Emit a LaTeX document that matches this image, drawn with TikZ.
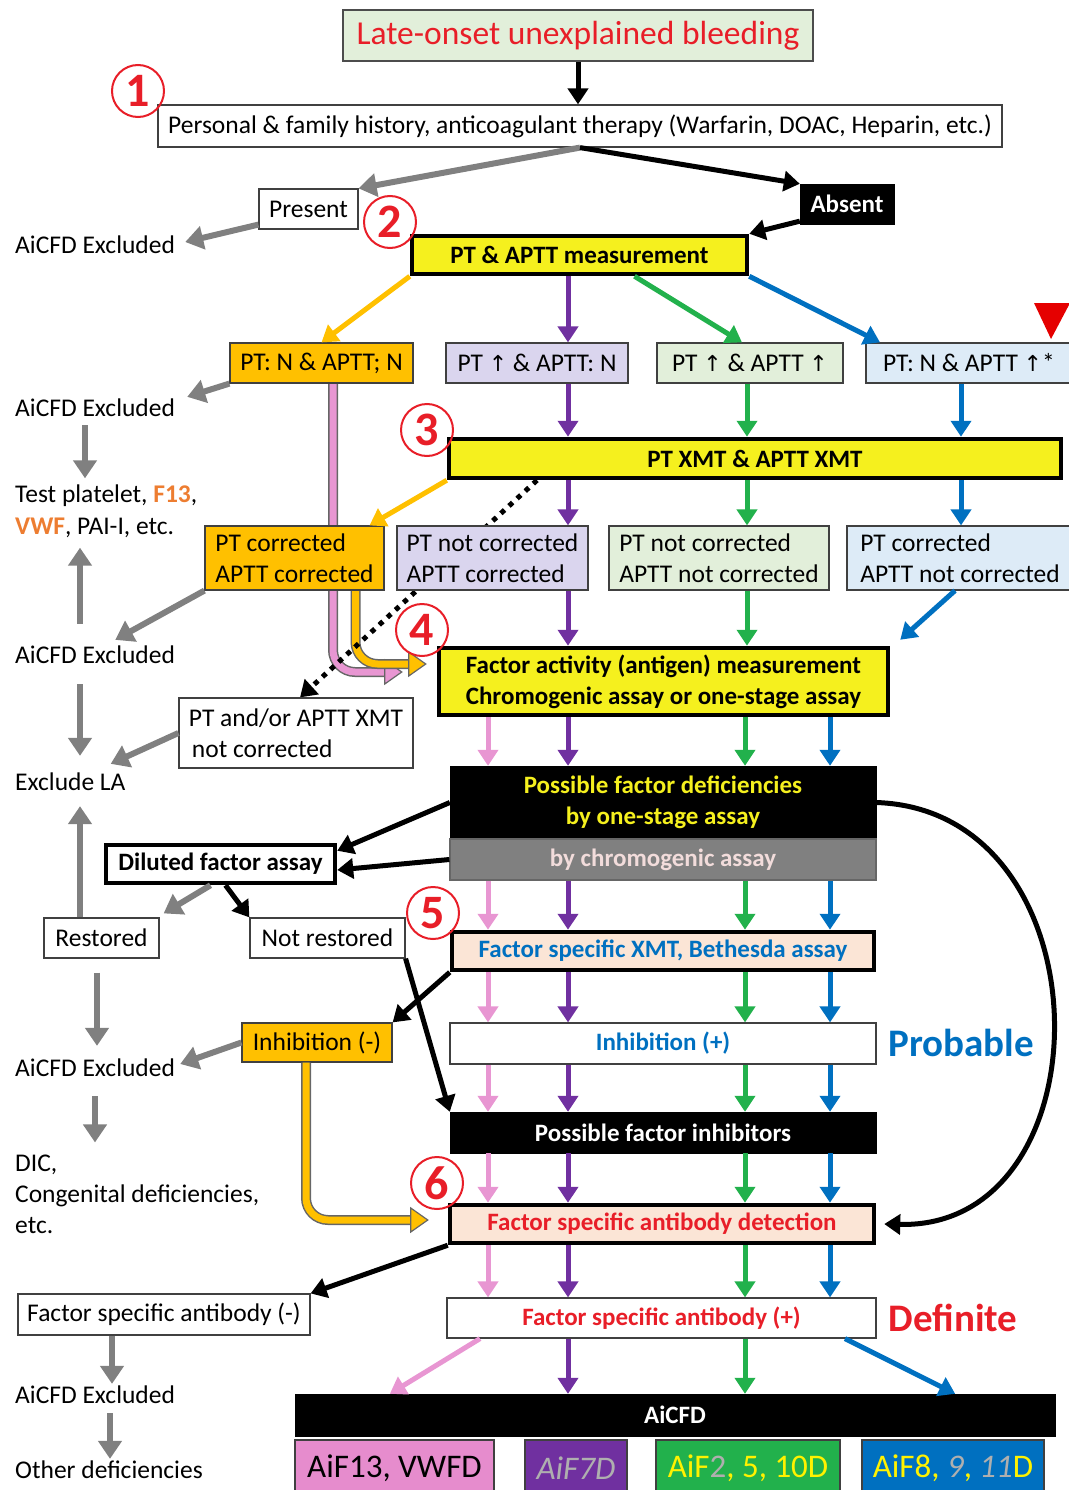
\documentclass[tikz,border=0pt]{standalone}
\usepackage{fontspec}
\setmainfont{Carlito}
\newfontfamily\symf{DejaVu Sans}
\usetikzlibrary{arrows.meta,calc}
\pgfdeclarelayer{bg}
\pgfsetlayers{bg,main}
\definecolor{cpink}{RGB}{232,150,210}
\definecolor{cpurple}{RGB}{112,48,160}
\definecolor{cgreen}{RGB}{34,177,76}
\definecolor{cblue}{RGB}{0,112,192}
\definecolor{corange}{RGB}{255,192,0}
\definecolor{cyellow}{RGB}{245,240,30}
\definecolor{lgreen}{RGB}{226,239,218}
\definecolor{lpurple}{RGB}{218,213,238}
\definecolor{lblue}{RGB}{221,235,247}
\definecolor{peach}{RGB}{251,229,214}
\definecolor{cgray}{RGB}{128,128,128}
\definecolor{cred}{RGB}{232,30,40}
\definecolor{forange}{RGB}{237,125,49}
\definecolor{fgray}{RGB}{175,175,175}
\definecolor{chromtxt}{RGB}{242,220,219}
\definecolor{bpink}{RGB}{230,140,205}
\newcommand\fsz[2]{\fontsize{#1pt}{#2pt}\selectfont}
\newcommand\dblarrow[3]{%
  \draw[line width=10pt, black!60, rounded corners=22pt] (#2) |- ([xshift=-14pt]#3);
  \draw[line width=7pt, #1, rounded corners=22pt] (#2) |- ([xshift=-14pt]#3);
  \filldraw[fill=#1, draw=black!60, line width=1.2pt] ([xshift=-17pt,yshift=12pt]#3) -- (#3) -- ([xshift=-17pt,yshift=-12pt]#3) -- cycle;}
\tikzset{
  box/.style={draw=black!75, line width=1.2pt, inner sep=0pt, font=\fsz{25.5}{31}},
  tbox/.style={draw=black, line width=4.5pt, inner sep=0pt, font=\bfseries\fsz{25}{31}},
  blk/.style={fill=black, draw=black, inner sep=0pt, text=white, font=\bfseries\fsz{25}{31}},
  lbl/.style={anchor=west, inner sep=0pt, font=\fsz{25.5}{31}},
  bfs/.style={font=\bfseries\fsz{25}{31}},
  num/.style={circle, draw=cred, line width=2pt, minimum size=52pt, inner sep=0pt, text=cred, font=\bfseries\fsz{48}{48}},
  arr/.style={line width=5pt, -{Triangle[length=16pt,width=20pt]}},
  arrgray/.style={arr, cgray, line width=6pt, -{Triangle[length=18pt,width=23pt]}},
  arrblack/.style={arr, black},
  arrpink/.style={arr, cpink},
  arrpurple/.style={arr, cpurple},
  arrgreen/.style={arr, cgreen},
  arrblue/.style={arr, cblue},
  arrorange/.style={arr, corange},
}
\begin{document}
\begin{tikzpicture}[x=1pt,y=-1pt]
\useasboundingbox (0,0) rectangle (1068,1490);
% ---------- nodes ----------
\node[box, fill=lgreen, draw=black!70, minimum width=470pt, minimum height=51pt, text=cred, font=\fsz{33.5}{38}] (top) at (578,35.5) {Late-onset unexplained bleeding};
\node[box, minimum width=844pt, minimum height=42pt] (hist) at (580,126) {Personal \& family history, anticoagulant therapy (Warfarin, DOAC, Heparin, etc.)};
\node[box, minimum width=99pt, minimum height=40pt] (present) at (308.5,209) {Present};
\node[lbl] (excl1) at (15,245) {AiCFD Excluded};
\node[blk, minimum width=94pt, minimum height=40pt] (absent) at (847,204) {Absent};
\node[tbox, fill=cyellow, minimum width=335pt, minimum height=38pt] (ptaptt) at (579.5,255) {PT \& APTT measurement};

\node[box, fill=corange, minimum width=183pt, minimum height=40pt] (ptnn) at (321.5,363) {PT: N \& APTT; N};
\node[box, fill=lpurple, minimum width=182pt, minimum height=40pt] (ptun) at (537,363) {PT {\symf\fsz{22}{25}↑} \& APTT: N};
\node[box, fill=lgreen, minimum width=186pt, minimum height=40pt] (ptuu) at (750,363) {PT {\symf\fsz{22}{25}↑} \& APTT {\symf\fsz{22}{25}↑}};
\node[box, fill=lblue, minimum width=206pt, minimum height=40pt] (ptnu) at (969,363) {PT: N \& APTT {\symf\fsz{22}{25}↑}*};
\fill[red!90!black] (1034,303) -- (1070,303) -- (1051,339) -- cycle;

\node[lbl] (excl2) at (15,408) {AiCFD Excluded};
\node[lbl, align=left, font=\fsz{25.5}{32}] (test) at (15,511) {Test platelet, {\color{forange}\bfseries F13},\\{\color{forange}\bfseries VWF}, PAI-I, etc.};

\node[tbox, fill=cyellow, minimum width=612pt, minimum height=39pt] (xmt) at (755,458.5) {PT XMT \& APTT XMT};

\node[box, fill=corange, minimum width=179pt, minimum height=64pt, align=left] (c1) at (294.5,558) {PT corrected\\APTT corrected};
\node[box, fill=lpurple, minimum width=191pt, minimum height=64pt, align=left] (c2) at (492.5,558) {PT not corrected\\APTT corrected};
\node[box, fill=lgreen, minimum width=220pt, minimum height=64pt, align=left] (c3) at (719,558) {PT not corrected\\APTT not corrected};
\node[box, fill=lblue, minimum width=226pt, minimum height=64pt, align=left] (c4) at (960,558) {PT corrected\\APTT not corrected};

\node[lbl] (excl3) at (15,655) {AiCFD Excluded};
\node[tbox, fill=cyellow, minimum width=449pt, minimum height=67pt, align=center] (fam) at (663.5,681.5) {Factor activity (antigen) measurement\\Chromogenic assay or one-stage assay};
\node[box, minimum width=234pt, minimum height=70pt, align=left] (notcorr) at (296,733) {PT and/or APTT XMT\\\hspace{3pt}not corrected};
\node[lbl] (exla) at (15,782) {Exclude LA};

\node[blk, minimum width=426pt, minimum height=73pt, align=center, text=cyellow] (pfd) at (663,802.5) {Possible factor deficiencies\\by one-stage assay};
\node[box, bfs, fill=cgray, draw=black!60, minimum width=426pt, minimum height=41pt, text=chromtxt] (chrom) at (663,859.5) {by chromogenic assay};
\node[tbox, fill=white, minimum width=229pt, minimum height=38pt] (dil) at (220.5,864) {Diluted factor assay};
\node[box, minimum width=115pt, minimum height=40pt] (rest) at (101.5,938) {Restored};
\node[box, minimum width=155pt, minimum height=40pt] (nrest) at (327.5,938) {Not restored};
\node[tbox, fill=peach, minimum width=422pt, minimum height=38pt, text=cblue] (beth) at (663,951) {Factor specific XMT, Bethesda assay};

\node[box, fill=corange, minimum width=150pt, minimum height=39pt] (inhneg) at (317,1042.5) {Inhibition (-)};
\node[lbl] (excl4) at (15,1068) {AiCFD Excluded};
\node[lbl, align=left, font=\fsz{25.5}{31}] (dic) at (15,1194) {DIC,\\Congenital deficiencies,\\etc.};
\node[box, bfs, minimum width=426pt, minimum height=41pt, text=cblue] (inhpos) at (663,1043.5) {Inhibition (+)};
\node[text=cblue, font=\bfseries\fsz{39}{42}, inner sep=0pt] (prob) at (961,1043) {Probable};
\node[blk, minimum width=426pt, minimum height=41pt] (pfi) at (663,1132.5) {Possible factor inhibitors};
\node[tbox, fill=peach, minimum width=424pt, minimum height=38pt, text=cred] (fsad) at (662,1224) {Factor specific antibody detection};
\node[box, bfs, minimum width=429pt, minimum height=40pt, text=cred] (fsapos) at (661.5,1318) {Factor specific antibody (+)};
\node[text=cred, font=\bfseries\fsz{39}{42}, inner sep=0pt] (defin) at (953,1318) {Definite};
\node[box, minimum width=292pt, minimum height=41pt] (fsaneg) at (164,1314.5) {Factor specific antibody (-)};
\node[lbl] (excl5) at (15,1395) {AiCFD Excluded};
\node[lbl] (other) at (15,1470) {Other deficiencies};

\node[blk, minimum width=760pt, minimum height=42pt] (aicfd) at (675,1415) {AiCFD};
\node[box, fill=bpink, minimum width=199pt, minimum height=56pt, font=\fsz{33}{36}] (b1) at (394.5,1468) {AiF13, VWFD};
\node[box, fill=cpurple, minimum width=102pt, minimum height=56pt, font=\fsz{33}{36}] (b2) at (576,1468) {\itshape\color{fgray}AiF7D};
\node[box, fill=cgreen, minimum width=184pt, minimum height=56pt, font=\fsz{33}{36}] (b3) at (748,1468) {\color{yellow}AiF{\color{fgray}2}, 5, 10D};
\node[box, fill=cblue, minimum width=182pt, minimum height=56pt, font=\fsz{33}{36}] (b4) at (953,1468) {\color{yellow}AiF8, {\itshape\color{fgray}9}, {\itshape\color{fgray}11}D};

% ---------- column coordinates ----------
\coordinate (X1) at (488,0);
\coordinate (X2) at (568,0);
\coordinate (X3) at (745,0);
\coordinate (X4) at (830,0);
\coordinate (Y3) at (747,0);
\coordinate (Y4) at (961,0);
\coordinate (G1) at (85,0);
\coordinate (G2) at (80,0);
\coordinate (G3) at (97,0);
\coordinate (G4) at (95,0);
\coordinate (G5) at (112,0);
\coordinate (G6) at (110,0);

% ---------- background connectors ----------
\begin{pgfonlayer}{bg}
\coordinate (pkA) at ([xshift=11.5pt]ptnn.south);
\coordinate (pkE) at ([xshift=-35pt,yshift=9.5pt]fam.west);
\dblarrow{cpink}{pkA}{pkE}
\coordinate (orA) at ([xshift=61pt]c1.south);
\coordinate (orE) at ([xshift=-11pt,yshift=17.5pt]fam.west);
\dblarrow{corange}{orA}{orE}
\draw[line width=5pt, dash pattern=on 5pt off 6pt, -{Triangle[length=16pt,width=20pt]}] ([xshift=-218pt]xmt.south) -- ([xshift=4pt]notcorr.north);
\end{pgfonlayer}
\coordinate (inA) at ([xshift=-11pt]inhneg.south);
\coordinate (inE) at ([xshift=-20pt,yshift=4pt]fsad.west);
\dblarrow{corange}{inA}{inE}

% ---------- connectors ----------
\draw[arrblack] (top.south) -- (top.south |- hist.north);
\draw[arrgray] (hist.south) -- (present.north east);
\draw[arrblack] (hist.south) -- (absent.north west);
\draw[arrgray] ([yshift=5pt]present.south west) -- ([xshift=10pt,yshift=3pt]excl1.east);
\draw[arrblack] (absent.200) -- (ptaptt.north east);

\draw[arrorange] (ptaptt.south west) -- (ptnn.north);
\draw[arrpurple] (ptaptt.south -| X2) -- (ptun.north -| X2);
\draw[arrgreen] ([xshift=55pt]ptaptt.south) -- ([xshift=-8pt]ptuu.north);
\draw[arrblue] (ptaptt.south east) -- ([xshift=-89pt]ptnu.north);

\draw[arrgray] (ptnn.south west) -- ([xshift=12pt,yshift=2pt]excl2.north east);
\draw[arrgray, shorten <=8pt, shorten >=6pt] (excl2.south -| G1) -- (test.north -| G1);
\draw[arrgray, shorten <=22pt, shorten >=10pt] (excl3.north -| G2) -- (test.south -| G2);

\draw[arrpurple] (ptun.south -| X2) -- (xmt.north -| X2);
\draw[arrgreen] (ptuu.south -| Y3) -- (xmt.north -| Y3);
\draw[arrblue] (ptnu.south -| Y4) -- (xmt.north -| Y4);

\draw[arrorange] (xmt.south west) -- ([xshift=75pt]c1.north);
\draw[arrpurple] (xmt.south -| X2) -- (c2.north -| X2);
\draw[arrgreen] (xmt.south -| Y3) -- (c3.north -| Y3);
\draw[arrblue] (xmt.south -| Y4) -- (c4.north -| Y4);

\draw[arrgray] (c1.south west) -- ([xshift=-60pt,yshift=6pt]excl3.north east);
\draw[arrgray, shorten <=20pt, shorten >=17pt] (excl3.south -| G2) -- (exla.north -| G2);

\draw[arrpurple] (c2.south -| X2) -- (fam.north -| X2);
\draw[arrgreen] (c3.south -| Y3) -- (fam.north -| Y3);
\draw[arrblue] ([xshift=-5pt]c4.south) -- ([xshift=10pt,yshift=6pt]fam.north east);

\draw[arrgray] (notcorr.west) -- ([xshift=-15pt,yshift=9pt]exla.north east);

\foreach \a/\b in {fam/pfd, chrom/beth, beth/inhpos, inhpos/pfi, pfi/fsad, fsad/fsapos}{
  \draw[arrpink] (\a.south -| X1) -- (\b.north -| X1);
  \draw[arrpurple] (\a.south -| X2) -- (\b.north -| X2);
  \draw[arrgreen] (\a.south -| X3) -- (\b.north -| X3);
  \draw[arrblue] (\a.south -| X4) -- (\b.north -| X4);
}

\draw[arrblack] (pfd.west) -- ([yshift=-8pt]dil.north east);
\draw[arrblack] (chrom.west) -- ([yshift=-6pt]dil.east);
\draw[arrblack] (pfd.east) .. controls (1110,810) and (1110,1230) .. ([xshift=8pt]fsad.east);

\draw[arrgray] ([xshift=-10pt]dil.south) -- ([xshift=4pt,yshift=4pt]rest.north east);
\draw[arrblack] ([xshift=5pt]dil.south) -- (nrest.north west);
\draw[arrgray, shorten >=15pt] (rest.north -| G2) -- (exla.south -| G2);
\draw[arrgray, shorten <=14pt, shorten >=13pt] (rest.south -| G3) -- (excl4.north -| G3);
\draw[arrgray, shorten <=19pt, shorten >=12pt] (excl4.south -| G4) -- (dic.north -| G4);

\draw[arrblack] (beth.south west) -- (inhneg.north east);
\draw[arrblack] (nrest.south east) -- (pfi.north west);
\draw[arrgray] (inhneg.west) -- ([xshift=5pt,yshift=4pt]excl4.east);

\draw[arrblack] (fsad.south west) -- (fsaneg.north east);
\draw[arrgray, shorten >=2pt] (fsaneg.south -| G5) -- (excl5.north -| G5);
\draw[arrgray, shorten <=9pt, shorten >=2pt] (excl5.south -| G6) -- (other.north -| G6);

\draw[arrpink] ([xshift=-181.5pt]fsapos.south) -- ([xshift=95pt]aicfd.north west);
\draw[arrpurple] (fsapos.south -| X2) -- (aicfd.north -| X2);
\draw[arrgreen] (fsapos.south -| X3) -- (aicfd.north -| X3);
\draw[arrblue] ([xshift=183.5pt]fsapos.south) -- ([xshift=-100pt]aicfd.north east);

% ---------- step numbers ----------
\node[num] (n1) at (138,91) {1};
\node[num] (n2) at (390,222) {2};
\node[num] (n3) at (427,430) {3};
\node[num] (n4) at (422,630) {4};
\node[num] (n5) at (433,913) {5};
\node[num] (n6) at (437,1183) {6};
\end{tikzpicture}
\end{document}
